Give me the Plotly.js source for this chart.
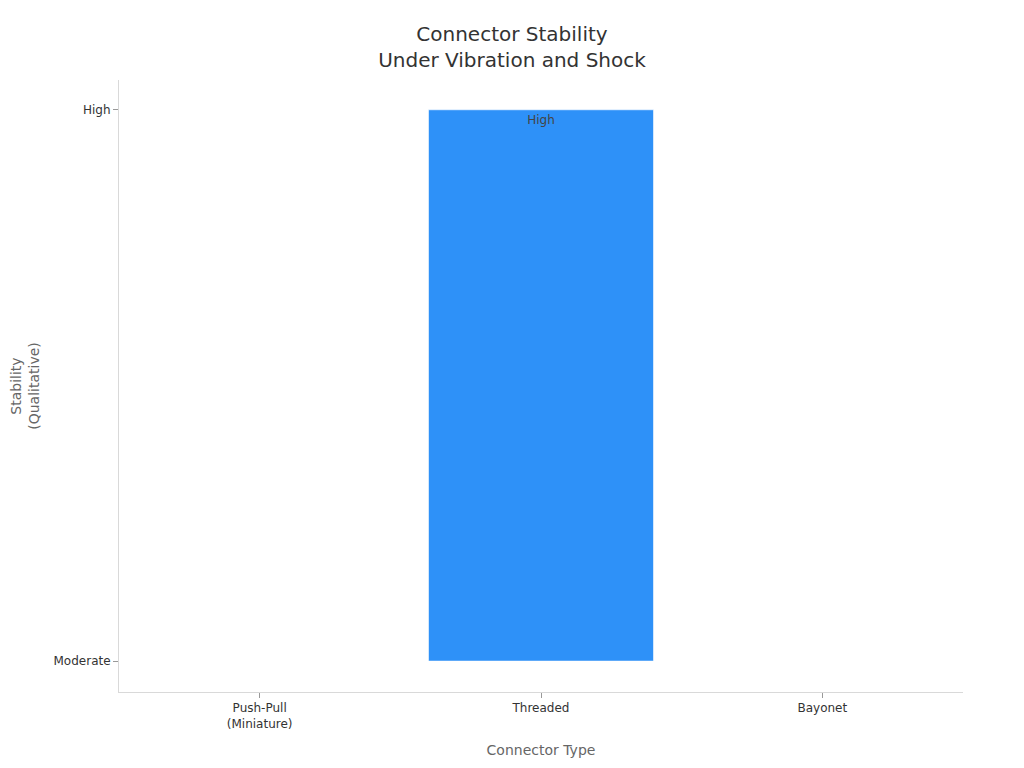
<!DOCTYPE html>
<html>
<head>
<meta charset="utf-8">
<script src="https://cdn.plot.ly/plotly-3.0.1.min.js"></script>
<style>
  html, body { margin: 0; padding: 0; background: #fff; }
  #chart { width: 1024px; height: 768px; }
</style>
</head>
<body>
<div id="chart"></div>
<script>
var connectorTypes = ['Push-Pull<br>(Miniature)', 'Threaded', 'Bayonet'];
var stabilityLevels = ['Moderate', 'High'];
var stability = ['Moderate', 'High', 'Moderate'];

var trace = {
	type: 'bar',
	x: connectorTypes,
	y: stability,
	text: stability,
	textposition: 'inside',
	insidetextanchor: 'end',
	textfont: { family: 'DejaVu Sans', size: 12, color: '#444' },
	marker: {
		color: '#2e91f8',
		line: { color: 'rgba(255,255,255,0.6)', width: 1 }
	},
	hoverinfo: 'x+y'
};

var layout = {
	width: 1024,
	height: 768,
	margin: { l: 119, r: 61, t: 80, b: 76 },
	paper_bgcolor: '#fff',
	plot_bgcolor: '#fff',
	font: { family: 'DejaVu Sans', color: '#333' },
	bargap: 0.2,
	showlegend: false,
	title: {
		text: 'Connector Stability<br>Under Vibration and Shock',
		font: { size: 20, color: '#333' },
		x: 0.5,
		xanchor: 'center',
		y: 0.947,
		yanchor: 'top'
	},
	xaxis: {
		type: 'category',
		title: { text: 'Connector Type', font: { size: 14, color: '#666' }, standoff: 15 },
		tickfont: { size: 12, color: '#333' },
		showline: true,
		linecolor: '#d9d9d9',
		linewidth: 1,
		ticks: 'outside',
		ticklen: 5,
		tickcolor: '#999',
		showgrid: false,
		zeroline: false
	},
	yaxis: {
		type: 'category',
		categoryorder: 'array',
		categoryarray: stabilityLevels,
		range: [-0.056, 1.054],
		title: { text: 'Stability<br>(Qualitative)', font: { size: 14, color: '#666' }, standoff: 10 },
		tickfont: { size: 12, color: '#333' },
		showline: true,
		linecolor: '#d9d9d9',
		linewidth: 1,
		ticks: 'outside',
		ticklen: 5,
		tickcolor: '#999',
		showgrid: false,
		zeroline: false
	}
};

Plotly.newPlot('chart', [trace], layout, { displayModeBar: false, staticPlot: true });
</script>
</body>
</html>
